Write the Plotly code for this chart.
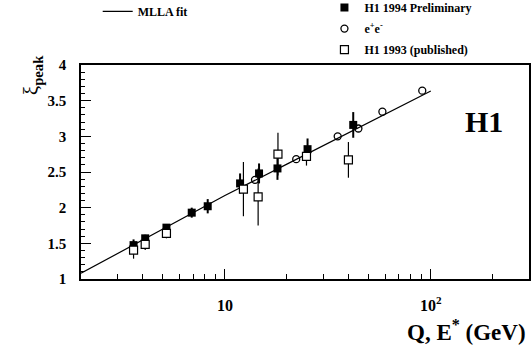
import plotly.graph_objects as go

# H1 1994 preliminary (filled squares)
h1_94_E = [3.6, 4.1, 5.2, 6.9, 8.25, 11.85, 14.65, 18.0, 25.2, 42.0]
h1_94_xi = [1.475, 1.57, 1.72, 1.93, 2.02, 2.34, 2.48, 2.55, 2.82, 3.16]
h1_94_err = [0.08, 0.05, 0.05, 0.07, 0.1, 0.14, 0.14, 0.16, 0.15, 0.18]

# H1 1993 published (open squares)
h1_93_E = [3.6, 4.1, 5.2, 12.3, 14.5, 18.1, 24.9, 39.8]
h1_93_xi = [1.405, 1.485, 1.64, 2.26, 2.15, 2.75, 2.72, 2.67]
h1_93_err = [0.12, 0.08, 0.07, 0.38, 0.4, 0.3, 0.13, 0.25]

# e+e- (open circles)
ee_E = [14.0, 22.2, 35.3, 44.5, 58.2, 90.9]
ee_xi = [2.39, 2.68, 3.0, 3.11, 3.345, 3.64]

# MLLA fit
fit_E = [2, 3, 5, 10, 20, 50, 100]
fit_xi = [1.08, 1.354, 1.70, 2.17, 2.61, 3.19, 3.635]

serif = "Liberation Serif"

fig = go.Figure()

fig.add_trace(go.Scatter(
    x=fit_E, y=fit_xi, mode="lines", name="MLLA fit",
    line=dict(color="black", width=1.2), legend="legend", showlegend=True))

fig.add_trace(go.Scatter(
    x=h1_94_E, y=h1_94_xi, mode="markers", name="H1 1994 Preliminary",
    marker=dict(symbol="square", size=8, color="black"),
    error_y=dict(type="data", array=h1_94_err, color="black", thickness=2, width=0),
    legend="legend2", legendgroup="a", showlegend=True))

fig.add_trace(go.Scatter(
    x=ee_E, y=ee_xi, mode="markers", name="e<sup>+</sup>e<sup>-</sup>",
    marker=dict(symbol="circle-open", size=7, color="black", line=dict(width=1.3)),
    legend="legend2", legendgroup="b", showlegend=True))

fig.add_trace(go.Scatter(
    x=h1_93_E, y=h1_93_xi, mode="markers", name="H1 1993 (published)",
    marker=dict(symbol="square", size=8, color="white", line=dict(color="black", width=1.2)),
    error_y=dict(type="data", array=h1_93_err, color="black", thickness=1.2, width=0),
    legend="legend2", legendgroup="c", showlegend=True))

fig.update_layout(
    width=531, height=346,
    margin=dict(l=81, r=2, t=65, b=67, autoexpand=False),
    paper_bgcolor="white", plot_bgcolor="white",
    showlegend=True,
    font=dict(family=serif, color="black", weight="bold"),
    legend=dict(x=0.184, xref="container", y=1.318, yref="paper",
                xanchor="left", yanchor="top", bgcolor="rgba(0,0,0,0)",
                font=dict(size=12, family=serif, weight="bold")),
    legend2=dict(x=0.611, xref="container", y=1.336, yref="paper",
                 xanchor="left", yanchor="top", bgcolor="rgba(0,0,0,0)",
                 tracegroupgap=2,
                 font=dict(size=12, family=serif, weight="bold")),
)

fig.update_xaxes(
    type="log", range=[0.301, 2.477],
    showline=True, linecolor="black", linewidth=1.5, mirror=True,
    showgrid=False, zeroline=False,
    tickvals=[10, 100], ticktext=["10", "10<sup>2</sup>"],
    ticks="inside", ticklen=10, tickcolor="black", tickwidth=1.2,
    tickfont=dict(size=16, family=serif, weight="bold"), ticklabelstandoff=11,
    minor=dict(tickvals=[3, 4, 5, 6, 7, 8, 9, 20, 30, 40, 50, 60, 70, 80, 90, 200],
               ticks="inside", ticklen=5, tickcolor="black", tickwidth=1.2),
)

fig.update_yaxes(
    range=[1, 4],
    showline=True, linecolor="black", linewidth=1.5, mirror=True,
    showgrid=False, zeroline=False,
    tickvals=[1, 1.5, 2, 2.5, 3, 3.5, 4], ticktext=["1", "1.5", "2", "2.5", "3", "3.5", "4"],
    ticks="inside", ticklen=10, tickcolor="black", tickwidth=1.2,
    tickfont=dict(size=15, family=serif, weight="bold"), ticklabelstandoff=10,
    minor=dict(dtick=0.1, ticks="inside", ticklen=4, tickcolor="black", tickwidth=1),
)

fig.add_annotation(
    text="Q, E<sup>*</sup> (GeV)", xref="paper", yref="paper",
    x=0.724, y=-0.24, xanchor="left", yanchor="middle", showarrow=False,
    font=dict(size=23, family=serif, weight="bold"))

fig.add_annotation(
    text="<span style='font-weight:normal'>ξ</span><sub>peak</sub>",
    xref="paper", yref="paper", x=-0.109, y=0.953, textangle=-90,
    xanchor="center", yanchor="middle", showarrow=False,
    font=dict(size=21, family=serif, weight="bold"))

fig.add_annotation(
    text="H1", xref="paper", yref="paper", x=0.9, y=0.738,
    xanchor="center", yanchor="middle", showarrow=False,
    font=dict(size=30, family=serif, weight="bold"))

# drop the default 8px body margin so the figure fills the window exactly
fig.write_html("out.html", config={"displayModeBar": False},
               post_script="document.body.style.margin='0';")
